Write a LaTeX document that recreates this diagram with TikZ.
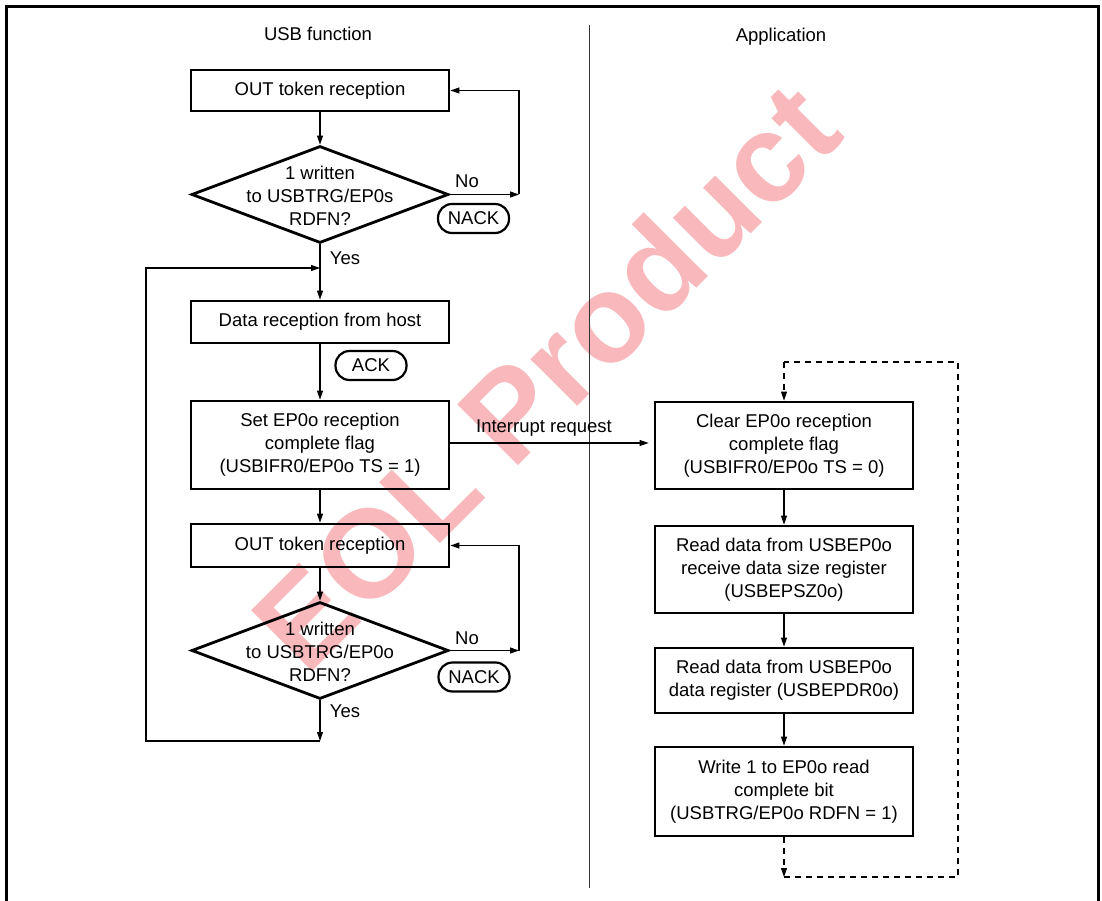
\documentclass[tikz,border=0pt]{standalone}
\usepackage{fontspec}
\setmainfont{Liberation Sans}
\usetikzlibrary{arrows.meta,shapes.geometric}
\definecolor{wmpink}{RGB}{248,184,188}
\tikzset{
  box/.style={draw, line width=2.8pt, minimum width=258pt, inner sep=0pt, align=center, font=\fontsize{18.5}{23}\selectfont},
  dia/.style={draw, line width=2.8pt, diamond, minimum width=257pt, minimum height=97pt, inner sep=0pt},
  oval/.style={draw, line width=2.2pt, rounded corners=14pt, minimum width=71pt, minimum height=29pt, inner sep=0pt, font=\fontsize{18.5}{23}\selectfont},
  lbl/.style={inner sep=0pt, font=\fontsize{18.5}{23}\selectfont, align=center},
  conn/.style={line width=1.1pt},
  arr/.style={conn, -{Triangle[length=9pt,width=6pt]}},
  darr/.style={arr, dash pattern=on 6pt off 5pt},
  dline/.style={conn, dash pattern=on 6pt off 5pt},
}
\begin{document}
\begin{tikzpicture}[x=1pt,y=-1pt]
\useasboundingbox (0,0) rectangle (1102,901);
% watermark (behind)
\node[text=wmpink, rotate=45, inner sep=0pt, font=\fontsize{125}{125}\selectfont\bfseries] (wm) at (545,376) {EOL Product};
% frame
\draw[line width=3pt] (6,901) -- (6,7) -- (1098,7) -- (1098,901);
% divider
\draw[line width=1pt, black!80] (589,25) -- (589,888);
% headers
\node[lbl] (h1) at (318,34) {USB function};
\node[lbl] (h2) at (781,37) {Application};

% left column
\node[box, minimum height=41pt] (b1) at (320,90.5) {OUT token reception};
\node[dia] (d1) at (320,194.5) {};
\node[lbl] (d1t) at (320,196) {1 written\\to USBTRG/EP0s\\RDFN?};
\node[box, minimum height=42pt] (b2) at (320,322) {Data reception from host};
\node[box, minimum height=88pt] (b3) at (320,445) {Set EP0o reception\\complete flag\\(USBIFR0/EP0o TS = 1)};
\node[box, minimum height=43pt] (b4) at (320,545.5) {OUT token reception};
\node[dia] (d2) at (320,650.5) {};
\node[lbl] (d2t) at (320,652) {1 written\\to USBTRG/EP0o\\RDFN?};

\node[oval] (nack1) at (473.5,218.5) {NACK};
\node[oval] (ack) at (371,365.5) {ACK};
\node[oval] (nack2) at (474,677) {NACK};

\node[lbl] (no1) at (467,181) {No};
\node[lbl] (yes1) at (345,258) {Yes};
\node[lbl] (no2) at (467,638) {No};
\node[lbl] (yes2) at (345,711) {Yes};

\coordinate (n1) at (519,194.5);
\coordinate (n2) at (519,650.5);
\coordinate (j1) at (320,268);
\coordinate (j2) at (320,741);
\coordinate (lc) at (146,741);

\draw[arr] (b1.south) -- (d1.north);
\draw[arr] (d1.east) -- (n1);
\draw[arr] (n1) |- (b1.east);
\draw[arr] (d1.south) -- (b2.north);
\draw[arr] (b2.south) -- (b3.north);
\draw[arr] (b3.south) -- (b4.north);
\draw[arr] (b4.south) -- (d2.north);
\draw[arr] (d2.east) -- (n2);
\draw[arr] (n2) |- (b4.east);
\draw[arr] (d2.south) -- (j2);
\draw[arr] (j2) -- (lc) |- (j1);

% right column
\node[box, minimum height=87pt] (r1) at (784,445.5) {Clear EP0o reception\\complete flag\\(USBIFR0/EP0o TS = 0)};
\node[box, minimum height=87pt] (r2) at (784,569.5) {Read data from USBEP0o\\receive data size register\\(USBEPSZ0o)};
\node[box, minimum height=65pt] (r3) at (784,680.5) {Read data from USBEP0o\\data register (USBEPDR0o)};
\node[box, minimum height=89pt] (r4) at (784,791.5) {Write 1 to EP0o read\\complete bit\\(USBTRG/EP0o RDFN = 1)};

\draw[arr] (r1.south) -- (r2.north);
\draw[arr] (r2.south) -- (r3.north);
\draw[arr] (r3.south) -- (r4.north);

\coordinate (q1) at (784,877);
\coordinate (q2) at (958,877);
\coordinate (q3) at (958,362);
\coordinate (q4) at (784,362);
\draw[darr] (r4.south) -- (q1);
\draw[dline] (q1) -- (q2) -- (q3) -- (q4);
\draw[darr] (q4) -- (r1.north);

% interrupt request
\draw[arr, shorten >=5pt] (b3.east |- 0,443) -- (r1.west |- 0,443);
\node[lbl] (irq) at (544,428) {Interrupt request};
\end{tikzpicture}
\end{document}
